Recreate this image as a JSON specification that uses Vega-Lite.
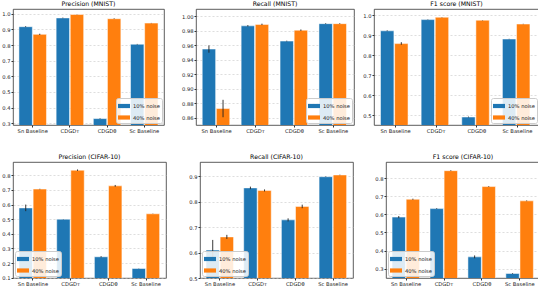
{
"$schema":"https://vega.github.io/schema/vega-lite/v6.json",
"padding":0,
"background":"white",
"datasets":{"d":[
{"p":"PM","m":"Sn Baseline","n":"10% noise","v":0.917,"lo":0.914,"hi":0.920},
{"p":"PM","m":"Sn Baseline","n":"40% noise","v":0.868,"lo":0.864,"hi":0.872},
{"p":"PM","m":"CDGDᴛ","n":"10% noise","v":0.973,"lo":0.971,"hi":0.975},
{"p":"PM","m":"CDGDᴛ","n":"40% noise","v":0.995,"lo":0.994,"hi":0.996},
{"p":"PM","m":"CDGDθ","n":"10% noise","v":0.330,"lo":0.328,"hi":0.332},
{"p":"PM","m":"CDGDθ","n":"40% noise","v":0.968,"lo":0.966,"hi":0.970},
{"p":"PM","m":"Sc Baseline","n":"10% noise","v":0.805,"lo":0.803,"hi":0.807},
{"p":"PM","m":"Sc Baseline","n":"40% noise","v":0.940,"lo":0.939,"hi":0.941},
{"p":"RM","m":"Sn Baseline","n":"10% noise","v":0.955,"lo":0.950,"hi":0.960},
{"p":"RM","m":"Sn Baseline","n":"40% noise","v":0.873,"lo":0.861,"hi":0.885},
{"p":"RM","m":"CDGDᴛ","n":"10% noise","v":0.987,"lo":0.986,"hi":0.988},
{"p":"RM","m":"CDGDᴛ","n":"40% noise","v":0.989,"lo":0.988,"hi":0.990},
{"p":"RM","m":"CDGDθ","n":"10% noise","v":0.966,"lo":0.9655,"hi":0.9665},
{"p":"RM","m":"CDGDθ","n":"40% noise","v":0.981,"lo":0.980,"hi":0.982},
{"p":"RM","m":"Sc Baseline","n":"10% noise","v":0.990,"lo":0.9895,"hi":0.9905},
{"p":"RM","m":"Sc Baseline","n":"40% noise","v":0.990,"lo":0.9895,"hi":0.9905},
{"p":"FM","m":"Sn Baseline","n":"10% noise","v":0.921,"lo":0.919,"hi":0.923},
{"p":"FM","m":"Sn Baseline","n":"40% noise","v":0.857,"lo":0.851,"hi":0.864},
{"p":"FM","m":"CDGDᴛ","n":"10% noise","v":0.977,"lo":0.976,"hi":0.978},
{"p":"FM","m":"CDGDᴛ","n":"40% noise","v":0.989,"lo":0.988,"hi":0.990},
{"p":"FM","m":"CDGDθ","n":"10% noise","v":0.490,"lo":0.488,"hi":0.492},
{"p":"FM","m":"CDGDθ","n":"40% noise","v":0.974,"lo":0.973,"hi":0.975},
{"p":"FM","m":"Sc Baseline","n":"10% noise","v":0.880,"lo":0.879,"hi":0.881},
{"p":"FM","m":"Sc Baseline","n":"40% noise","v":0.955,"lo":0.954,"hi":0.956},
{"p":"PC","m":"Sn Baseline","n":"10% noise","v":0.577,"lo":0.555,"hi":0.600},
{"p":"PC","m":"Sn Baseline","n":"40% noise","v":0.706,"lo":0.704,"hi":0.708},
{"p":"PC","m":"CDGDᴛ","n":"10% noise","v":0.500,"lo":0.499,"hi":0.501},
{"p":"PC","m":"CDGDᴛ","n":"40% noise","v":0.835,"lo":0.830,"hi":0.840},
{"p":"PC","m":"CDGDθ","n":"10% noise","v":0.243,"lo":0.239,"hi":0.247},
{"p":"PC","m":"CDGDθ","n":"40% noise","v":0.728,"lo":0.722,"hi":0.734},
{"p":"PC","m":"Sc Baseline","n":"10% noise","v":0.163,"lo":0.162,"hi":0.164},
{"p":"PC","m":"Sc Baseline","n":"40% noise","v":0.537,"lo":0.536,"hi":0.538},
{"p":"RC","m":"Sn Baseline","n":"10% noise","v":0.610,"lo":0.570,"hi":0.650},
{"p":"RC","m":"Sn Baseline","n":"40% noise","v":0.662,"lo":0.654,"hi":0.670},
{"p":"RC","m":"CDGDᴛ","n":"10% noise","v":0.855,"lo":0.850,"hi":0.860},
{"p":"RC","m":"CDGDᴛ","n":"40% noise","v":0.845,"lo":0.841,"hi":0.849},
{"p":"RC","m":"CDGDθ","n":"10% noise","v":0.729,"lo":0.723,"hi":0.735},
{"p":"RC","m":"CDGDθ","n":"40% noise","v":0.782,"lo":0.775,"hi":0.789},
{"p":"RC","m":"Sc Baseline","n":"10% noise","v":0.899,"lo":0.898,"hi":0.900},
{"p":"RC","m":"Sc Baseline","n":"40% noise","v":0.906,"lo":0.905,"hi":0.907},
{"p":"FC","m":"Sn Baseline","n":"10% noise","v":0.585,"lo":0.579,"hi":0.591},
{"p":"FC","m":"Sn Baseline","n":"40% noise","v":0.684,"lo":0.681,"hi":0.687},
{"p":"FC","m":"CDGDᴛ","n":"10% noise","v":0.632,"lo":0.630,"hi":0.634},
{"p":"FC","m":"CDGDᴛ","n":"40% noise","v":0.842,"lo":0.840,"hi":0.844},
{"p":"FC","m":"CDGDθ","n":"10% noise","v":0.365,"lo":0.357,"hi":0.373},
{"p":"FC","m":"CDGDθ","n":"40% noise","v":0.754,"lo":0.752,"hi":0.756},
{"p":"FC","m":"Sc Baseline","n":"10% noise","v":0.273,"lo":0.271,"hi":0.275},
{"p":"FC","m":"Sc Baseline","n":"40% noise","v":0.675,"lo":0.673,"hi":0.677}
]},
"config":{
 "font":"DejaVu Sans",
 "view":{"stroke":"#333","strokeWidth":0.8},
 "title":{"fontSize":6.2,"fontWeight":"normal","color":"#000","offset":1.5},
 "axis":{"labelFontSize":5.2,"labelColor":"#222","tickSize":2,"tickColor":"#333","labelPadding":1,"domain":false,"title":null,"gridDash":[2,2],"gridColor":"#c8c8c8","gridWidth":0.6,"labelOverlap":false,"labelFlush":false,"labelBound":false},
 "axisX":{"grid":false,"labelAngle":0},
 "axisY":{"tickCount":30},
 "legend":{"title":null,"symbolType":"M-1,-0.35H1V0.35H-1Z","symbolSize":144,"symbolStrokeWidth":0,"labelFontSize":5.2,"labelColor":"#222","fillColor":"rgba(255,255,255,0.85)","strokeColor":"#ccc","padding":2,"rowPadding":1.5,"labelOffset":3,"offset":2,"cornerRadius":2}
},
"resolve":{"scale":{"color":"independent"},"legend":{"color":"independent"}},
"spacing":19,
"vconcat":[
{"spacing":0,"resolve":{"scale":{"color":"independent"},"legend":{"color":"independent"}},
 "hconcat":[
 {"width":151,"height":116,"title":"Precision (MNIST)","data":{"name":"d"},"transform":[{"filter":"datum.p==='PM'"}],
  "encoding":{"x":{"field":"m","type":"nominal","sort":["Sn Baseline","CDGDᴛ","CDGDθ","Sc Baseline"],"scale":{"paddingInner":0.26,"paddingOuter":0.16}},"xOffset":{"field":"n","type":"nominal","scale":{"paddingInner":0.05}}},
  "layer":[
   {"mark":{"type":"bar","clip":true,"stroke":"white","strokeOpacity":0.5,"strokeWidth":1},
    "encoding":{"y":{"field":"v","type":"quantitative","scale":{"domain":[0.289,1.03],"zero":false,"nice":false},"axis":{"values":[0.3,0.4,0.5,0.6,0.7,0.8,0.9,1.0],"tickCount":30,"format":".1f","grid":true,"minExtent":12,"maxExtent":12}},
     "color":{"field":"n","type":"nominal","scale":{"range":["#1f77b4","#ff7f0e"]},"legend":{"orient":"bottom-right"}}}},
   {"mark":{"type":"rule","color":"#222","strokeWidth":0.9},"encoding":{"y":{"field":"lo","type":"quantitative"},"y2":{"field":"hi"}}}
  ]},
 {"width":158,"height":116,"title":"Recall (MNIST)","data":{"name":"d"},"transform":[{"filter":"datum.p==='RM'"}],
  "encoding":{"x":{"field":"m","type":"nominal","sort":["Sn Baseline","CDGDᴛ","CDGDθ","Sc Baseline"],"scale":{"paddingInner":0.26,"paddingOuter":0.16}},"xOffset":{"field":"n","type":"nominal","scale":{"paddingInner":0.05}}},
  "layer":[
   {"mark":{"type":"bar","clip":true,"stroke":"white","strokeOpacity":0.5,"strokeWidth":1},
    "encoding":{"y":{"field":"v","type":"quantitative","scale":{"domain":[0.8503,1.0102],"zero":false,"nice":false},"axis":{"values":[0.86,0.88,0.90,0.92,0.94,0.96,0.98,1.0],"tickCount":30,"format":".2f","grid":true,"minExtent":30,"maxExtent":30}},
     "color":{"field":"n","type":"nominal","scale":{"range":["#1f77b4","#ff7f0e"]},"legend":{"orient":"bottom-right"}}}},
   {"mark":{"type":"rule","color":"#222","strokeWidth":0.9},"encoding":{"y":{"field":"lo","type":"quantitative"},"y2":{"field":"hi"}}}
  ]},
 {"width":165,"height":116,"title":"F1 score (MNIST)","data":{"name":"d"},"transform":[{"filter":"datum.p==='FM'"}],
  "encoding":{"x":{"field":"m","type":"nominal","sort":["Sn Baseline","CDGDᴛ","CDGDθ","Sc Baseline"],"scale":{"paddingInner":0.26,"paddingOuter":0.16}},"xOffset":{"field":"n","type":"nominal","scale":{"paddingInner":0.05}}},
  "layer":[
   {"mark":{"type":"bar","clip":true,"stroke":"white","strokeOpacity":0.5,"strokeWidth":1},
    "encoding":{"y":{"field":"v","type":"quantitative","scale":{"domain":[0.45,1.03],"zero":false,"nice":false},"axis":{"values":[0.5,0.6,0.7,0.8,0.9,1.0],"tickCount":30,"format":".1f","grid":true,"minExtent":18,"maxExtent":18}},
     "color":{"field":"n","type":"nominal","scale":{"range":["#1f77b4","#ff7f0e"]},"legend":{"orient":"bottom-right"}}}},
   {"mark":{"type":"rule","color":"#222","strokeWidth":0.9},"encoding":{"y":{"field":"lo","type":"quantitative"},"y2":{"field":"hi"}}}
  ]}
 ]},
{"spacing":0,"resolve":{"scale":{"color":"independent"},"legend":{"color":"independent"}},
 "hconcat":[
 {"width":153,"height":116,"title":"Precision (CIFAR-10)","data":{"name":"d"},"transform":[{"filter":"datum.p==='PC'"}],
  "encoding":{"x":{"field":"m","type":"nominal","sort":["Sn Baseline","CDGDᴛ","CDGDθ","Sc Baseline"],"scale":{"paddingInner":0.26,"paddingOuter":0.16}},"xOffset":{"field":"n","type":"nominal","scale":{"paddingInner":0.05}}},
  "layer":[
   {"mark":{"type":"bar","clip":true,"stroke":"white","strokeOpacity":0.5,"strokeWidth":1},
    "encoding":{"y":{"field":"v","type":"quantitative","scale":{"domain":[0.098,0.891],"zero":false,"nice":false},"axis":{"values":[0.1,0.2,0.3,0.4,0.5,0.6,0.7,0.8],"tickCount":30,"format":".1f","grid":true,"minExtent":12,"maxExtent":12}},
     "color":{"field":"n","type":"nominal","scale":{"range":["#1f77b4","#ff7f0e"]},"legend":{"orient":"bottom-left"}}}},
   {"mark":{"type":"rule","color":"#222","strokeWidth":0.9},"encoding":{"y":{"field":"lo","type":"quantitative"},"y2":{"field":"hi"}}}
  ]},
 {"width":153,"height":116,"title":"Recall (CIFAR-10)","data":{"name":"d"},"transform":[{"filter":"datum.p==='RC'"}],
  "encoding":{"x":{"field":"m","type":"nominal","sort":["Sn Baseline","CDGDᴛ","CDGDθ","Sc Baseline"],"scale":{"paddingInner":0.26,"paddingOuter":0.16}},"xOffset":{"field":"n","type":"nominal","scale":{"paddingInner":0.05}}},
  "layer":[
   {"mark":{"type":"bar","clip":true,"stroke":"white","strokeOpacity":0.5,"strokeWidth":1},
    "encoding":{"y":{"field":"v","type":"quantitative","scale":{"domain":[0.5,0.957],"zero":false,"nice":false},"axis":{"values":[0.5,0.6,0.7,0.8,0.9],"tickCount":30,"format":".1f","grid":true,"minExtent":32,"maxExtent":32}},
     "color":{"field":"n","type":"nominal","scale":{"range":["#1f77b4","#ff7f0e"]},"legend":{"orient":"bottom-left"}}}},
   {"mark":{"type":"rule","color":"#222","strokeWidth":0.9},"encoding":{"y":{"field":"lo","type":"quantitative"},"y2":{"field":"hi"}}}
  ]},
 {"width":154,"height":116,"title":"F1 score (CIFAR-10)","data":{"name":"d"},"transform":[{"filter":"datum.p==='FC'"}],
  "encoding":{"x":{"field":"m","type":"nominal","sort":["Sn Baseline","CDGDᴛ","CDGDθ","Sc Baseline"],"scale":{"paddingInner":0.26,"paddingOuter":0.16}},"xOffset":{"field":"n","type":"nominal","scale":{"paddingInner":0.05}}},
  "layer":[
   {"mark":{"type":"bar","clip":true,"stroke":"white","strokeOpacity":0.5,"strokeWidth":1},
    "encoding":{"y":{"field":"v","type":"quantitative","scale":{"domain":[0.248,0.89],"zero":false,"nice":false},"axis":{"values":[0.3,0.4,0.5,0.6,0.7,0.8],"tickCount":30,"format":".1f","grid":true,"minExtent":31,"maxExtent":31}},
     "color":{"field":"n","type":"nominal","scale":{"range":["#1f77b4","#ff7f0e"]},"legend":{"orient":"bottom-left"}}}},
   {"mark":{"type":"rule","color":"#222","strokeWidth":0.9},"encoding":{"y":{"field":"lo","type":"quantitative"},"y2":{"field":"hi"}}}
  ]}
 ]}
]
}
